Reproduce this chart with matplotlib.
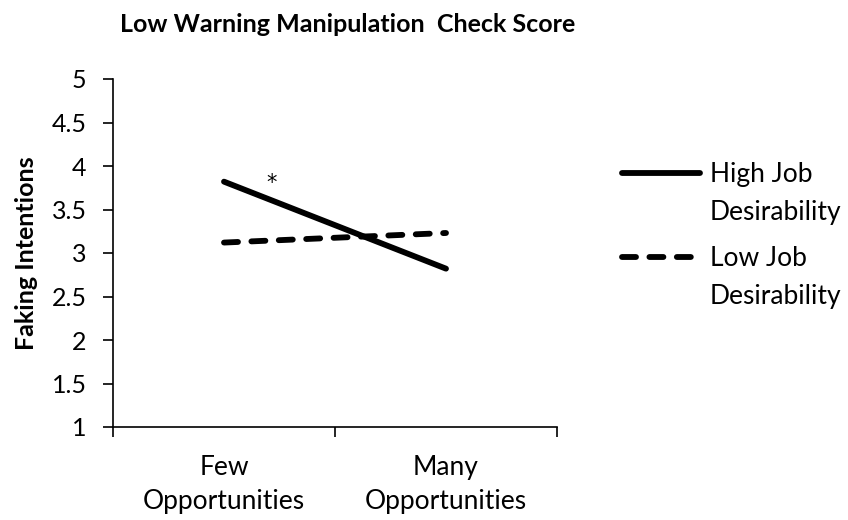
import matplotlib
matplotlib.use("Agg")
import matplotlib.pyplot as plt
from matplotlib.lines import Line2D

plt.rcParams['font.family'] = ['Lato', 'DejaVu Sans']

categories = ["Few\nOpportunities", "Many\nOpportunities"]
high_job = [3.82, 2.82]
low_job = [3.12, 3.23]
series_names = ["High Job\nDesirability", "Low Job\nDesirability"]
y_ticks = [1, 1.5, 2, 2.5, 3, 3.5, 4, 4.5, 5]
y_tick_labels = ["1", "1.5", "2", "2.5", "3", "3.5", "4", "4.5", "5"]

LW = 4.2
DASH = (2.4, 2.3)
FS = 18
FS_TEXT = 19

fig = plt.figure(figsize=(8.48, 5.2), dpi=100)
ax = fig.add_axes([113/848, 1-427/520, (557-113)/848, (427-79)/520])

x = list(range(len(categories)))
ax.plot(x, high_job, color="black", lw=LW, solid_capstyle="round")
ax.plot(x, low_job, color="black", lw=LW, dashes=DASH, dash_capstyle="round")

# significance marker on the high-desirability slope
ax.text(0.216, 3.80, "*", ha="center", va="center", fontsize=15,
        family="DejaVu Sans")

ax.set_xlim(-0.5, 1.5)
ax.set_ylim(1, 5)
ax.set_yticks(y_ticks)
ax.set_yticklabels(y_tick_labels, fontsize=FS)
ax.set_xticks([-0.5, 0.5, 1.5])
ax.set_xticklabels([])
ax.set_xticks(x, minor=True)
ax.set_xticklabels(categories, minor=True, fontsize=FS_TEXT, linespacing=1.45)
ax.tick_params(axis="x", which="minor", length=0, pad=20)
ax.tick_params(axis="both", which="major", length=7, width=1.2, direction="out")
ax.tick_params(axis="y", pad=12)
for s in ["top", "right"]:
    ax.spines[s].set_visible(False)
for s in ["left", "bottom"]:
    ax.spines[s].set_linewidth(1.2)

ax.set_ylabel("Faking Intentions", fontsize=FS, fontweight="bold", labelpad=10)

fig.text(120/848, 1-25/520, "Low Warning Manipulation  Check Score",
         fontsize=FS, fontweight="bold", ha="left", va="center")

# legend: handle aligned with the first line of each two-line label
styles = [dict(solid_capstyle="round"), dict(dashes=DASH, dash_capstyle="round")]
legend_top = [175, 259]
for name, style, ytop in zip(series_names, styles, legend_top):
    yf = 1 - ytop / 520
    fig.add_artist(Line2D([622/848, 700/848], [yf + 2/520, yf + 2/520],
                          color="black", lw=LW, transform=fig.transFigure, **style))
    fig.text(710/848, yf + 13/520, name, fontsize=FS_TEXT, ha="left", va="top",
             linespacing=1.65)

fig.savefig("out.png", dpi=100)
